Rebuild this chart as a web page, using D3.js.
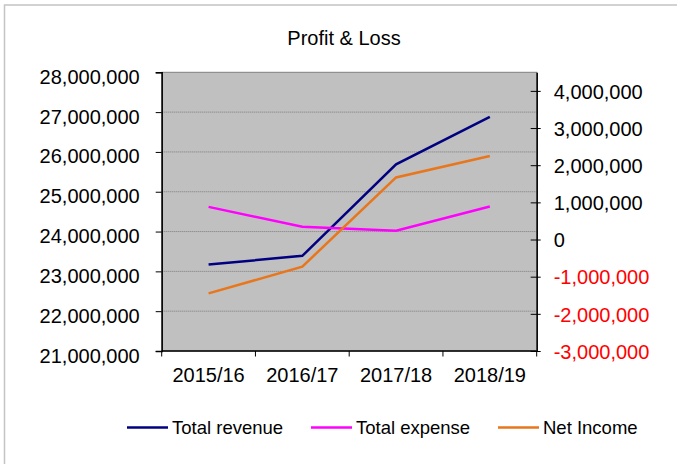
<!DOCTYPE html>
<html>
<head>
<meta charset="utf-8">
<script src="https://cdn.jsdelivr.net/npm/d3@7"></script>
<style>
  body { margin: 0; background: #fff; }
  svg { display: block; font-family: "Liberation Sans", Arial, sans-serif; }
</style>
</head>
<body>
<svg id="chart" width="677" height="464"></svg>
<script>
// chart data
const categories = ["2015/16", "2016/17", "2017/18", "2018/19"];
const totalRevenue = [23170000, 23390000, 25690000, 26880000];
const totalExpense = [24620000, 24120000, 24020000, 24630000];
const netIncome = [-1450000, -730000, 1670000, 2250000];
const leftTicks = [21000000, 22000000, 23000000, 24000000, 25000000, 26000000, 27000000, 28000000];
const rightTicks = [-3000000, -2000000, -1000000, 0, 1000000, 2000000, 3000000, 4000000];
const seriesNames = ["Total revenue", "Total expense", "Net Income"];
const seriesColors = ["#000080", "#ff00ff", "#e8761c"];

const svg = d3.select("#chart");

const plot = { left: 161.7, right: 536.7, top: 72.3, bottom: 351 };

const x = d3.scaleBand()
    .domain(categories)
    .range([plot.left, plot.right]);

const yLeft = d3.scaleLinear()
    .domain([21000000, 28000000])
    .range([plot.bottom, plot.top]);

const yRight = d3.scaleLinear()
    .domain([-3000000, 4500000])
    .range([plot.bottom, plot.top]);

// plain hyphen for negatives, like the original
const fmt = d3.formatLocale({ decimal: ".", thousands: ",", grouping: [3], currency: ["", ""], minus: "-" }).format(",");

// outer frame (right / bottom edges fall outside the picture)
svg.append("rect")
    .attr("x", 4.5).attr("y", 5)
    .attr("width", 700).attr("height", 500)
    .attr("fill", "none")
    .attr("stroke", "#c4c4c4")
    .attr("stroke-width", 1.5);

// title
svg.append("text")
    .attr("x", 344)
    .attr("y", 45)
    .attr("text-anchor", "middle")
    .attr("font-size", 20)
    .text("Profit & Loss");

// plot area
svg.append("rect")
    .attr("x", plot.left).attr("y", plot.top)
    .attr("width", plot.right - plot.left)
    .attr("height", plot.bottom - plot.top)
    .attr("fill", "#c0c0c0")
    .attr("stroke", "#808080");

// gridlines
svg.append("g")
    .selectAll("line")
    .data(leftTicks.slice(1, -1))
    .join("line")
    .attr("x1", plot.left).attr("x2", plot.right)
    .attr("y1", d => yLeft(d)).attr("y2", d => yLeft(d))
    .attr("stroke", "#7a7a7a")
    .attr("stroke-width", 1)
    .attr("stroke-dasharray", "1,1");

// left axis
const gLeft = svg.append("g")
    .attr("transform", `translate(${plot.left},0)`)
    .call(d3.axisLeft(yLeft).tickValues(leftTicks).tickFormat(fmt).tickSize(6).tickPadding(16));
gLeft.select(".domain").attr("stroke", "#000").attr("stroke-width", 1.5);
gLeft.selectAll(".tick line").attr("stroke", "#000");
gLeft.selectAll(".tick text")
    .attr("font-size", 20)
    .attr("font-family", "Liberation Sans, Arial, sans-serif")
    .attr("fill", "#000")
    .attr("dy", "0.55em");

// right axis
const gRight = svg.append("g")
    .attr("transform", `translate(${plot.right},0)`)
    .call(d3.axisRight(yRight).tickValues(rightTicks).tickFormat(fmt).tickSizeInner(4).tickSizeOuter(0).tickPadding(13));
gRight.select(".domain").attr("stroke", "#000").attr("stroke-width", 1.5);
gRight.selectAll(".tick line").attr("stroke", "#000").attr("x1", -6);
gRight.selectAll(".tick text")
    .attr("font-size", 20)
    .attr("font-family", "Liberation Sans, Arial, sans-serif")
    .attr("fill", d => d < 0 ? "#ff0000" : "#000")
    .attr("dy", "0.36em");

// bottom axis: labels at centres, ticks at category boundaries
const gBottom = svg.append("g")
    .attr("transform", `translate(0,${plot.bottom})`)
    .call(d3.axisBottom(x).tickSize(0).tickPadding(17));
gBottom.select(".domain").remove();
gBottom.selectAll(".tick text")
    .attr("font-size", 20)
    .attr("font-family", "Liberation Sans, Arial, sans-serif")
    .attr("fill", "#000");

const bounds = categories.map(c => x(c)).concat([x.range()[1]]);
svg.append("g")
    .selectAll("line")
    .data(bounds)
    .join("line")
    .attr("x1", d => d).attr("x2", d => d)
    .attr("y1", plot.bottom).attr("y2", plot.bottom + 5.5)
    .attr("stroke", "#000");
svg.append("line")
    .attr("x1", plot.left).attr("x2", plot.right)
    .attr("y1", plot.bottom).attr("y2", plot.bottom)
    .attr("stroke", "#000").attr("stroke-width", 1.5);

// series lines
const cx = c => x(c) + x.bandwidth() / 2;
const series = [
    { values: totalRevenue, y: yLeft },
    { values: totalExpense, y: yLeft },
    { values: netIncome, y: yRight }
];
series.forEach((s, i) => {
    const line = d3.line()
        .x((d, j) => cx(categories[j]))
        .y(d => s.y(d));
    svg.append("path")
        .datum(s.values)
        .attr("d", line)
        .attr("fill", "none")
        .attr("stroke", seriesColors[i])
        .attr("stroke-width", 2.5);
});

// legend
const legendX = [127, 311, 498];
const legend = svg.append("g")
    .selectAll("g")
    .data(seriesNames)
    .join("g")
    .attr("transform", (d, i) => `translate(${legendX[i]},427.5)`);
legend.append("line")
    .attr("x1", 0).attr("x2", 41)
    .attr("stroke", (d, i) => seriesColors[i])
    .attr("stroke-width", 2.5);
legend.append("text")
    .attr("x", 45)
    .attr("y", 6.5)
    .attr("font-size", 18.5)
    .text(d => d);
</script>
</body>
</html>
